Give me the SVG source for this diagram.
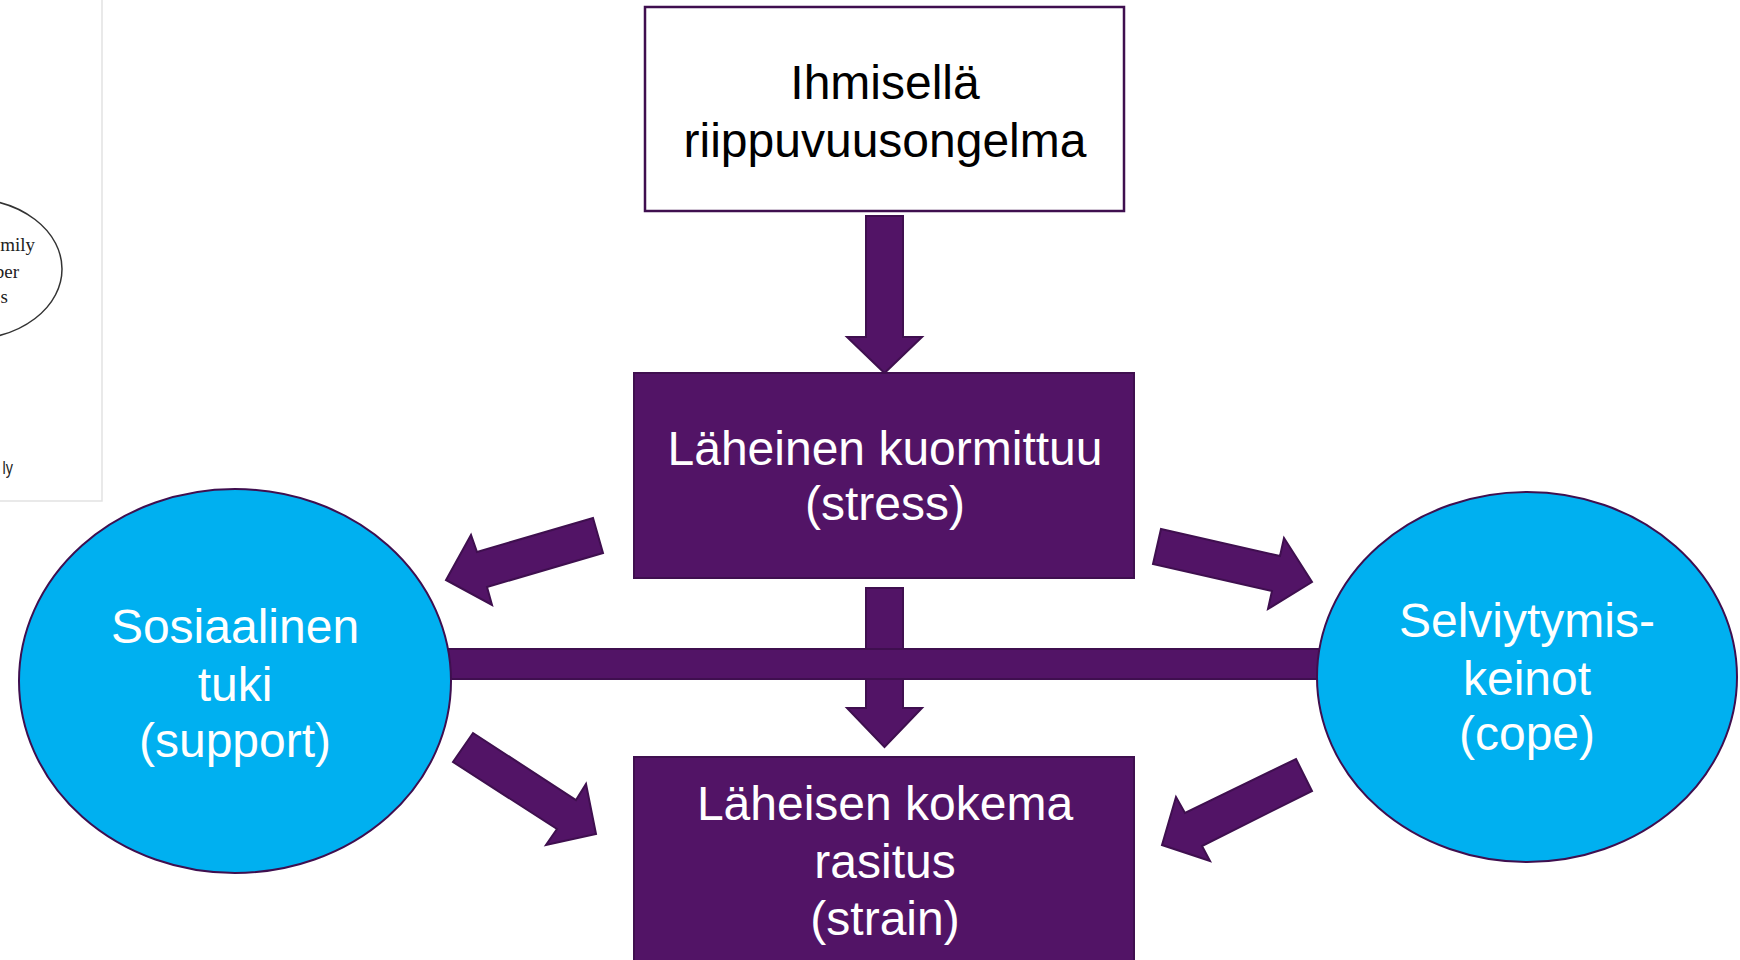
<svg xmlns="http://www.w3.org/2000/svg" width="1740" height="960" viewBox="0 0 1740 960">
<defs>
<style>
.lbl{font-family:"Liberation Sans",Arial,sans-serif;font-size:48px;text-anchor:middle}
.w{fill:#ffffff}
.k{fill:#000000}
.box{fill:#521466;stroke:#3f0f4f;stroke-width:2}
.arr{fill:#521466;stroke:#3f0f4f;stroke-width:2;stroke-linejoin:miter}
.ell{fill:#00b0f0;stroke:#3f0f4f;stroke-width:2}
.frag{font-family:"Liberation Serif","Times New Roman",serif;font-size:19px;fill:#222;text-anchor:end}
</style>
</defs>
<rect width="1740" height="960" fill="#ffffff"/>
<g id="fragment">
<rect x="-5" y="-5" width="107" height="506" fill="#ffffff" stroke="#e2e2e2" stroke-width="1.5"/>
<ellipse cx="-30" cy="269" rx="92" ry="70" fill="none" stroke="#333" stroke-width="1.5"/>
<text class="frag" x="35" y="251">mily</text>
<text class="frag" x="19" y="278">ber</text>
<text class="frag" x="8" y="303">s</text>
<text x="13" y="474" font-family="Liberation Sans Narrow,Liberation Sans,sans-serif" font-size="18" fill="#222" text-anchor="end" transform="translate(13 474) scale(0.8 1) translate(-13 -474)">ly</text>
</g>
<g id="connectors">
<polygon class="arr" points="866,216 903,216 903,337 922,337 884.5,373 847,337 866,337"/>
<polygon class="arr" points="866,588 903,588 903,708 922,708 884.5,747 847,708 866,708"/>
<rect class="arr" x="440" y="649" width="890" height="30"/>
<polygon class="arr" points="593,518 603,553 487,587 492,605 446,580 471,535 477,552"/>
<polygon class="arr" points="1161,529 1280,556 1284,538 1312,582 1268,609 1272,591 1153,564"/>
<polygon class="arr" points="473,733 576,800 586,784 596,834 546,845 557,829 453,762"/>
<polygon class="arr" points="1296,759 1312,791 1202,846 1210,861 1162,845 1176,797 1185,813"/>
</g>
<g id="node-ihminen">
<rect x="645" y="7" width="479" height="204" fill="#ffffff" stroke="#3f0f4f" stroke-width="2.5"/>
<text class="lbl k" x="885" y="99">Ihmisellä</text>
<text class="lbl k" x="885" y="157">riippuvuusongelma</text>
</g>
<g id="node-stress">
<rect class="box" x="634" y="373" width="500" height="205"/>
<text class="lbl w" x="885" y="465">Läheinen kuormittuu</text>
<text class="lbl w" x="885" y="520">(stress)</text>
</g>
<g id="node-strain">
<rect class="box" x="634" y="757" width="500" height="215"/>
<text class="lbl w" x="885" y="820">Läheisen kokema</text>
<text class="lbl w" x="885" y="878">rasitus</text>
<text class="lbl w" x="885" y="935">(strain)</text>
</g>
<g id="node-support">
<ellipse class="ell" cx="235" cy="681" rx="216" ry="192"/>
<text class="lbl w" x="235" y="643">Sosiaalinen</text>
<text class="lbl w" x="235" y="701">tuki</text>
<text class="lbl w" x="235" y="757">(support)</text>
</g>
<g id="node-cope">
<ellipse class="ell" cx="1527" cy="677" rx="210" ry="185"/>
<text class="lbl w" x="1527" y="637">Selviytymis-</text>
<text class="lbl w" x="1527" y="695">keinot</text>
<text class="lbl w" x="1527" y="750">(cope)</text>
</g>
</svg>
